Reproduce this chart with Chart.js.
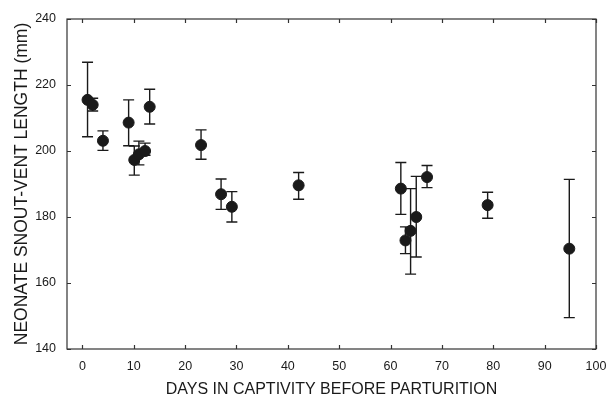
<!DOCTYPE html>
<html>
<head>
<meta charset="utf-8">
<script src="https://cdn.jsdelivr.net/npm/chart.js@4"></script>
<style>
  html, body { margin: 0; padding: 0; background: #fff; }
  #wrap { width: 607px; height: 399px; }
</style>
</head>
<body>
<div id="wrap"><canvas id="graph" width="607" height="399"></canvas></div>
<script>
// days in captivity before parturition
const days = [1, 2, 4, 9, 10.1, 11, 12.2, 13.1, 23.1, 27, 29.1, 42.1, 62, 62.9, 63.9, 65, 67.1, 78.9, 94.8];
// mean neonate SVL (mm)
const svl = [215.5, 214, 203.1, 208.6, 197.3, 199, 200, 213.4, 201.8, 186.9, 183.1, 189.6, 188.6, 172.9, 175.8, 180, 192.1, 183.6, 170.4];
const svlHigh = [226.9, 216, 206.1, 215.5, 201.5, 203, 202.4, 218.7, 206.4, 191.5, 187.7, 193.5, 196.5, 177, 188.6, 192.3, 195.6, 187.5, 191.4];
const svlLow = [204.3, 212.1, 200.2, 201.6, 192.7, 195.8, 198.7, 208.2, 197.5, 182.3, 178.5, 185.4, 180.8, 168.9, 162.7, 167.9, 188.9, 179.6, 149.5];

const xTicks = [0, 10, 20, 30, 40, 50, 60, 70, 80, 90, 100];
const yTicks = [140, 160, 180, 200, 220, 240];

const ink = '#1a1a1a';
const fontFam = '"Liberation Sans", Arial, sans-serif';

// error bars + framed box with inward ticks
const errorBars = {
	id: 'errorBars',
	beforeDatasetsDraw(chart) {
		const c = chart.ctx;
		const xs = chart.scales.x, ys = chart.scales.y;
		c.save();
		c.strokeStyle = ink;
		c.lineWidth = 1.4;
		for (let i = 0; i < days.length; i++) {
			const px = xs.getPixelForValue(days[i]);
			const top = ys.getPixelForValue(svlHigh[i]);
			const bot = ys.getPixelForValue(svlLow[i]);
			c.beginPath();
			c.moveTo(px, top); c.lineTo(px, bot);
			c.moveTo(px - 5.5, top); c.lineTo(px + 5.5, top);
			c.moveTo(px - 5.5, bot); c.lineTo(px + 5.5, bot);
			c.stroke();
		}
		c.restore();
	},
	afterDraw(chart) {
		const c = chart.ctx;
		const a = chart.chartArea;
		const xs = chart.scales.x, ys = chart.scales.y;
		c.save();
		c.strokeStyle = '#333';
		c.lineWidth = 1.2;
		c.strokeRect(a.left, a.top, a.right - a.left, a.bottom - a.top);
		c.beginPath();
		xTicks.forEach(v => {
			const px = Math.round(xs.getPixelForValue(v)) + 0.5;
			c.moveTo(px, a.bottom); c.lineTo(px, a.bottom - 4);
			c.moveTo(px, a.top); c.lineTo(px, a.top + 4);
		});
		yTicks.forEach(v => {
			const py = Math.round(ys.getPixelForValue(v)) + 0.5;
			c.moveTo(a.left, py); c.lineTo(a.left + 4, py);
			c.moveTo(a.right, py); c.lineTo(a.right - 4, py);
		});
		c.stroke();
		c.restore();
	}
};

const ctx = document.getElementById('graph').getContext('2d');

const myChart = new Chart(ctx, {
	type: 'scatter',
	data: {
		datasets: [{
			data: days.map((d, i) => ({ x: d, y: svl[i] })),
			backgroundColor: ink,
			borderColor: ink,
			pointRadius: 5.5,
			pointHoverRadius: 5.5
		}]
	},
	options: {
		responsive: false,
		animation: false,
		layout: {
			padding: { left: 0, right: 11, top: 19, bottom: 0 }
		},
		plugins: {
			legend: { display: false },
			tooltip: { enabled: false }
		},
		scales: {
			x: {
				type: 'linear',
				min: -3,
				max: 100,
				afterBuildTicks: s => { s.ticks = xTicks.map(v => ({ value: v })); },
				afterFit: s => {
					s.height = 50;
					s.paddingLeft = 0;
					s.paddingRight = 0;
				},
				grid: { display: false, drawTicks: false },
				border: { display: false },
				ticks: {
					color: ink,
					padding: 10,
					maxRotation: 0,
					font: { family: fontFam, size: 12.5 }
				},
				title: {
					display: true,
					text: 'DAYS IN CAPTIVITY BEFORE PARTURITION',
					color: ink,
					padding: { top: 0, bottom: 0 },
					font: { family: fontFam, size: 16 }
				}
			},
			y: {
				min: 140,
				max: 240,
				afterBuildTicks: s => { s.ticks = yTicks.map(v => ({ value: v })); },
				afterFit: s => {
					s.width = 67;
					s.paddingTop = 0;
					s.paddingBottom = 0;
				},
				grid: { display: false, drawTicks: false },
				border: { display: false },
				ticks: {
					color: ink,
					padding: 11,
					font: { family: fontFam, size: 12.5 }
				},
				title: {
					display: true,
					text: 'NEONATE SNOUT-VENT LENGTH (mm)',
					color: ink,
					padding: { top: 12, bottom: 0 },
					font: { family: fontFam, size: 17.5 }
				}
			}
		}
	},
	plugins: [errorBars]
});
</script>
</body>
</html>
